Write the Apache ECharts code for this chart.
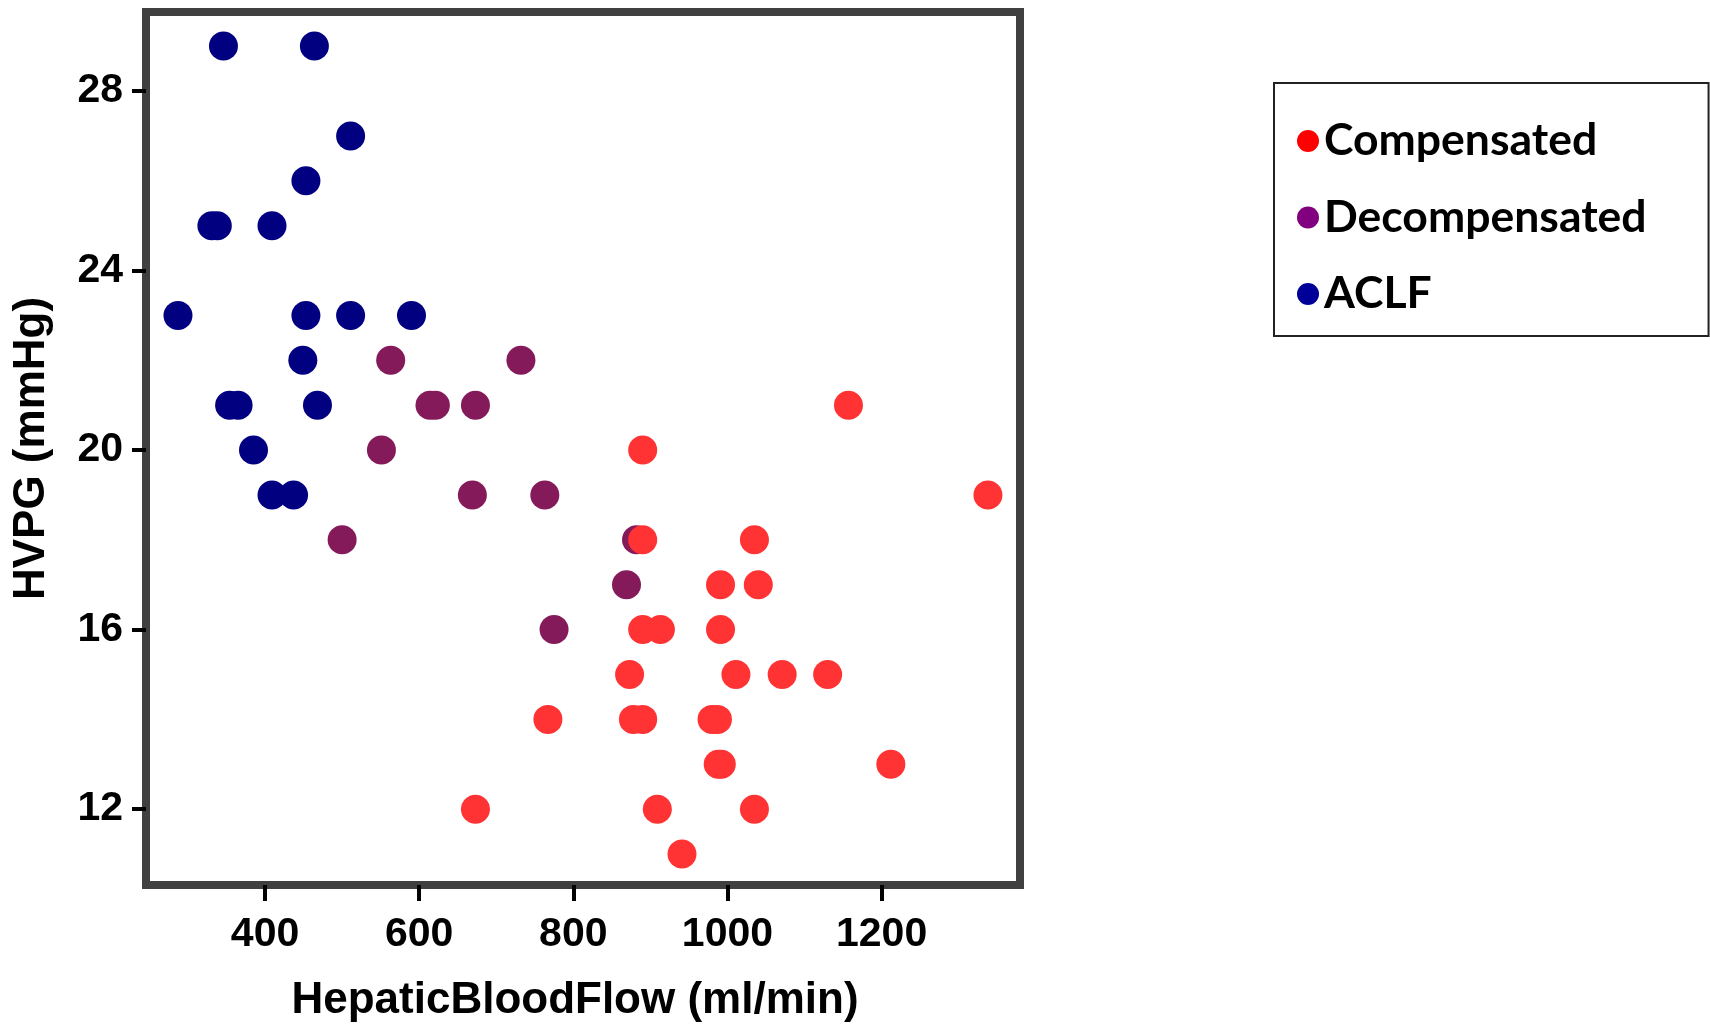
<!DOCTYPE html>
<html>
<head>
<meta charset="utf-8">
<script src="https://cdn.jsdelivr.net/npm/echarts@6/dist/echarts.min.js"></script>
<style>
  html, body { margin: 0; padding: 0; background: #fff; }
  #chart { width: 1710px; height: 1030px; }
</style>
</head>
<body>
<div id="chart"></div>
<script>
// Hepatic blood flow (ml/min) vs HVPG (mmHg), grouped by disease stage
const compensatedFlow = [1157, 890, 1338, 890, 1035, 991, 1040, 890, 913, 991, 873, 1011, 1071, 1130, 767, 878, 890, 980, 987, 988, 992, 1212, 673, 909, 1035, 941];
const compensatedHvpg = [21, 20, 19, 18, 18, 17, 17, 16, 16, 16, 15, 15, 15, 15, 14, 14, 14, 14, 14, 13, 13, 13, 12, 12, 12, 11];

const decompensatedFlow = [563, 732, 614, 621, 673, 551, 669, 763, 500, 882, 869, 775];
const decompensatedHvpg = [22, 22, 21, 21, 21, 20, 19, 19, 18, 18, 17, 16];

const aclfFlow = [346, 464, 511, 453, 331, 338, 409, 287, 453, 511, 590, 449, 354, 365, 468, 385, 409, 437];
const aclfHvpg = [29, 29, 27, 26, 25, 25, 25, 23, 23, 23, 23, 22, 21, 21, 21, 20, 19, 19];

const xTicks = [400, 600, 800, 1000, 1200];
const yTicks = [12, 16, 20, 24, 28];

const groupNames = ['Compensated', 'Decompensated', 'ACLF'];

const pairs = (xs, ys) => xs.map((x, i) => [x, ys[i]]);

const tickFont = {
  color: '#000',
  fontFamily: '"Liberation Sans", Arial, sans-serif',
  fontWeight: 'bold',
  fontSize: 41
};
const titleFont = {
  color: '#000',
  fontFamily: '"Liberation Sans", Arial, sans-serif',
  fontWeight: 'bold',
  fontSize: 44
};

const chart = echarts.init(document.getElementById('chart'), null, { renderer: 'canvas' });

chart.setOption({
  backgroundColor: '#fff',
  animation: false,
  grid: {
    left: 146,
    top: 12,
    width: 874,
    height: 873,
    show: true,
    borderColor: '#404040',
    borderWidth: 8,
    backgroundColor: 'transparent'
  },
  xAxis: {
    type: 'value',
    min: 245.5,
    max: 1379.6,
    name: 'HepaticBloodFlow (ml/min)',
    nameLocation: 'middle',
    nameGap: 94,
    nameTextStyle: Object.assign({ padding: [0, 16, 0, 0] }, titleFont),
    axisLine: { show: false },
    splitLine: { show: false },
    axisTick: {
      show: true,
      length: 16,
      customValues: xTicks,
      lineStyle: { color: '#000', width: 4 }
    },
    axisLabel: Object.assign({
      margin: 29,
      customValues: xTicks,
      formatter: (v) => String(v)
    }, tickFont)
  },
  yAxis: {
    type: 'value',
    min: 10.31,
    max: 29.76,
    name: 'HVPG (mmHg)',
    nameLocation: 'middle',
    nameRotate: 90,
    nameGap: 92,
    nameTextStyle: titleFont,
    axisLine: { show: false },
    splitLine: { show: false },
    axisTick: {
      show: true,
      length: 14,
      customValues: yTicks,
      lineStyle: { color: '#000', width: 4 }
    },
    axisLabel: Object.assign({
      margin: 23,
      customValues: yTicks,
      formatter: (v) => String(v)
    }, tickFont)
  },
  legend: {
    orient: 'vertical',
    left: 1274,
    top: 83,
    padding: [33, 62, 17, 23],
    itemGap: 26.5,
    itemWidth: 22,
    itemHeight: 22,
    borderColor: '#222',
    borderWidth: 2,
    icon: 'circle',
    textStyle: {
      color: '#000',
      fontFamily: 'Lato, sans-serif',
      fontWeight: 'bold',
      fontSize: 44.5,
      lineHeight: 50
    },
    data: [
      { name: groupNames[0], itemStyle: { color: '#ff0000' } },
      { name: groupNames[1], itemStyle: { color: '#800080' } },
      { name: groupNames[2], itemStyle: { color: '#000099' } }
    ]
  },
  series: [
    {
      name: groupNames[2],
      type: 'scatter',
      symbol: 'circle',
      symbolSize: 29,
      itemStyle: { color: '#000080', opacity: 1 },
      data: pairs(aclfFlow, aclfHvpg)
    },
    {
      name: groupNames[1],
      type: 'scatter',
      symbol: 'circle',
      symbolSize: 29,
      itemStyle: { color: '#841a5a', opacity: 1 },
      data: pairs(decompensatedFlow, decompensatedHvpg)
    },
    {
      name: groupNames[0],
      type: 'scatter',
      symbol: 'circle',
      symbolSize: 29,
      itemStyle: { color: '#ff3333', opacity: 1 },
      data: pairs(compensatedFlow, compensatedHvpg)
    }
  ]
});
</script>
</body>
</html>
